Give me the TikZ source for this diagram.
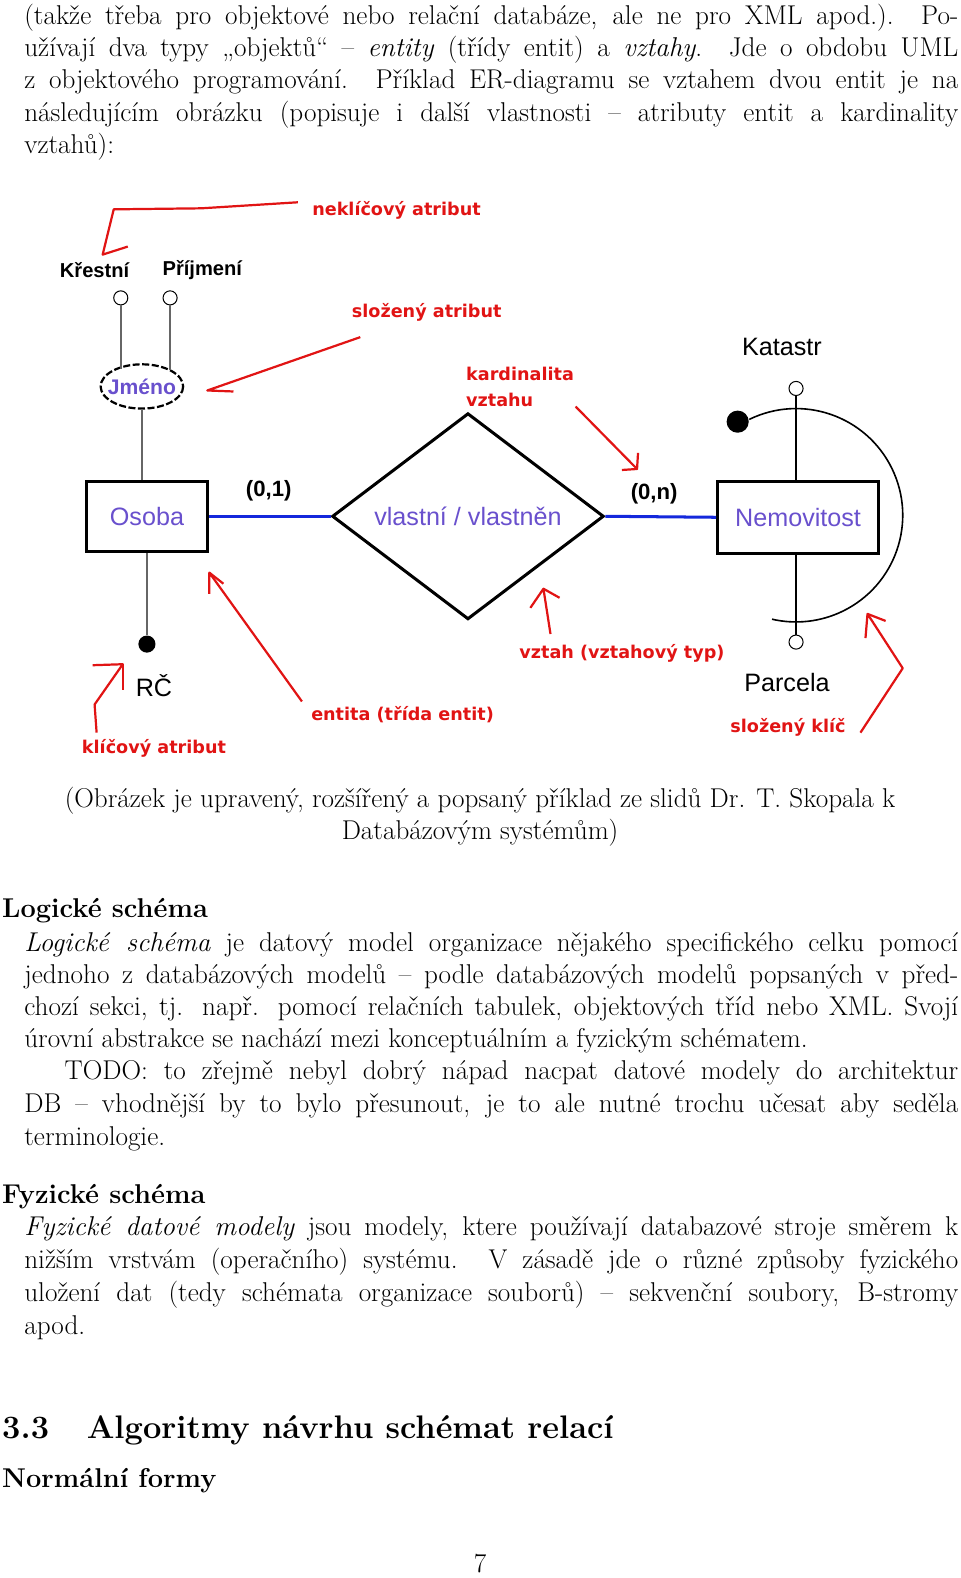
\documentclass[tikz,border=0pt]{standalone}
\usepackage{fontspec}
\newfontfamily\vfont{DejaVu Sans}
\newfontfamily\afont{Liberation Sans}
\usetikzlibrary{shapes.geometric}
\definecolor{annred}{RGB}{225,20,20}
\definecolor{lblue}{RGB}{20,40,220}
\definecolor{vio}{RGB}{105,80,205}
\tikzset{
 body/.style={anchor=base west,inner sep=0pt,font=\fontsize{27}{32.4}\selectfont},
 ann/.style={inner sep=0pt,text=annred,font=\vfont\bfseries\fontsize{17.5}{22}\selectfont},
 annl/.style={draw=annred,line width=2.2pt,line join=round},
 blk/.style={inner sep=0pt,font=\afont\bfseries\fontsize{20}{22}\selectfont},
 thin/.style={inner sep=0pt,font=\afont\fontsize{25}{28}\selectfont},
 attr/.style={draw=black!60,line width=1.6pt},
 hol/.style={circle,draw,fill=white,minimum size=14pt,inner sep=0pt,line width=1pt},
 dot/.style={circle,fill=black,inner sep=0pt},
}
\newcommand{\jl}[1]{\makebox[928pt][s]{#1}}
\begin{document}
\begin{tikzpicture}[x=1pt,y=-1pt]
\useasboundingbox (0,0) rectangle (954,1568);
% top text
\node[body] (t1) at (24,24) {\jl{(takže třeba pro objektové nebo relační databáze, ale ne pro XML apod.). Po-}};
\node[body] (t2) at (24,56) {\jl{užívají dva typy „objektů“ – \textit{entity} (třídy entit) a \textit{vztahy}. Jde o obdobu UML}};
\node[body] (t3) at (24,88) {\jl{z objektového programování. Příklad ER-diagramu se vztahem dvou entit je na}};
\node[body] (t4) at (24,121) {\jl{následujícím obrázku (popisuje i další vlastnosti – atributy entit a kardinality}};
\node[body] (t5) at (24,153) {vztahů):};
% diagram
\node[draw,line width=3pt,minimum width=121pt,minimum height=70pt,thin,text=vio] (os) at (146,513) {Osoba};
\node[draw,line width=3pt,minimum width=160pt,minimum height=71pt,thin,text=vio] (nem) at (793,514) {Nemovitost};
\node[diamond,draw,line width=3pt,minimum width=270pt,minimum height=179pt,inner sep=0pt,thin,text=vio] (rel) at (465,513) {vlastní / vlastněn};
\draw[lblue,line width=3pt] (os.east) -- (rel.west);
\draw[lblue,line width=3pt] (rel.east) -- (nem.west);
\node[blk,font=\afont\bfseries\fontsize{22}{24}\selectfont] (c1) at (267,488) {(0,1)};
\node[blk,font=\afont\bfseries\fontsize{22}{24}\selectfont] (cn) at (650,491) {(0,n)};
\node[inner sep=0pt,text=vio,font=\afont\bfseries\fontsize{21}{23}\selectfont] (jm) at (141,384) {Jméno};
\draw[dashed,dash pattern=on 7pt off 2.5pt,line width=2.2pt] (jm.center) ellipse[x radius=41,y radius=22];
\coordinate (jms) at (141,406);
\node[hol] (kc) at (120,296) {};
\node[hol] (pc) at (169,296) {};
\node[blk] (kr) at (94,268) {Křestní};
\node[blk] (pr) at (201,268) {Příjmení};
\coordinate (jk) at (120,367);
\coordinate (jp) at (169,368);
\draw[attr] (kc) -- (jk);
\draw[attr] (pc) -- (jp);
\draw[attr] (jms) -- (os.north -| jms);
\node[dot,minimum size=17pt] (rc) at (146,640) {};
\draw[attr] (os.south) -- (rc);
\node[thin] (rcl) at (153,681) {RČ};
\node[hol] (kat) at (791,386) {};
\node[hol] (par) at (791,638) {};
\draw[line width=1.3pt] (kat) -- (nem.north -| kat);
\draw[line width=1.3pt] (nem.south -| par) -- (par);
\node[thin] (katl) at (777,345) {Katastr};
\node[thin] (parl) at (782,678) {Parcela};
\node[dot,minimum size=22pt] (kd) at (733,419) {};
\coordinate (ac) at (791,512);
\draw[line width=1.6pt] (ac) ++(-116:106) arc[start angle=-116,end angle=103,radius=106];
% annotations
\node[ann] (a1) at (394,209) {neklíčový atribut};
\draw[annl] (296,201) -- (200,207) -- (113,208) -- (102,253) -- (127,245);
\node[ann] (a2) at (424,310) {složený atribut};
\draw[annl] (358,335) -- (206,388) -- (232,389);
\node[ann,align=left,anchor=north west,font=\vfont\bfseries\fontsize{17.5}{25}\selectfont] (a3) at (463,365) {kardinalita\\vztahu};
\draw[annl] (572,404) -- (633,466) -- (618,467);
\draw[annl] (633,466) -- (634,450);
\node[ann] (a4) at (618,649) {vztah (vztahový typ)};
\draw[annl] (547,630) -- (540,585) -- (527,604);
\draw[annl] (540,585) -- (556,594);
\node[ann] (a5) at (400,710) {entita (třída entit)};
\draw[annl] (300,697) -- (208,569) -- (208,590);
\draw[annl] (208,569) -- (222,580);
\node[ann] (a6) at (153,744) {klíčový atribut};
\draw[annl] (96,728) -- (94,700) -- (122,660) -- (92,661);
\draw[annl] (122,660) -- (122,686);
\node[ann] (a7) at (783,723) {složený klíč};
\draw[annl] (855,728) -- (897,664) -- (862,610) -- (860,634);
\draw[annl] (862,610) -- (880,617);
% caption
\node[body,anchor=base] (cap1) at (477,802) {(Obrázek je upravený, rozšířený a popsaný příklad ze slidů Dr. T. Skopala k};
\node[body,anchor=base] (cap2) at (477,834) {Databázovým systémům)};
% logical
\node[body] (h1) at (2,912) {\bfseries Logické schéma};
\node[body] (l1) at (24,945) {\jl{\textit{Logické schéma} je datový model organizace nějakého specifického celku pomocí}};
\node[body] (l2) at (24,977) {\jl{jednoho z databázových modelů – podle databázových modelů popsaných v před-}};
\node[body] (l3) at (24,1009) {\jl{chozí sekci, tj. např. pomocí relačních tabulek, objektových tříd nebo XML. Svojí}};
\node[body] (l4) at (24,1041) {úrovní abstrakce se nachází mezi konceptuálním a fyzickým schématem.};
\node[body] (l5) at (64,1073) {\makebox[888pt][s]{TODO: to zřejmě nebyl dobrý nápad nacpat datové modely do architektur}};
\node[body] (l6) at (24,1105) {\jl{DB – vhodnější by to bylo přesunout, je to ale nutné trochu učesat aby seděla}};
\node[body] (l7) at (24,1138) {terminologie.};
% physical
\node[body] (h2) at (2,1196) {\bfseries Fyzické schéma};
\node[body] (f1) at (24,1228) {\jl{\textit{Fyzické datové modely} jsou modely, ktere používají databazové stroje směrem k}};
\node[body] (f2) at (24,1260) {\jl{nižším vrstvám (operačního) systému. V zásadě jde o různé způsoby fyzického}};
\node[body] (f3) at (24,1293) {\jl{uložení dat (tedy schémata organizace souborů) – sekvenční soubory, B-stromy}};
\node[body] (f4) at (24,1326) {apod.};
% section
\node[body,font=\bfseries\fontsize{32.4}{40}\selectfont] (s1) at (2,1429) {3.3};
\node[body,font=\bfseries\fontsize{32.4}{40}\selectfont] (s2) at (86,1429) {Algoritmy návrhu schémat relací};
\node[body] (h3) at (2,1478) {\bfseries Normální formy};
\node[body,anchor=base] (pg) at (477,1563) {7};
\end{tikzpicture}
\end{document}
